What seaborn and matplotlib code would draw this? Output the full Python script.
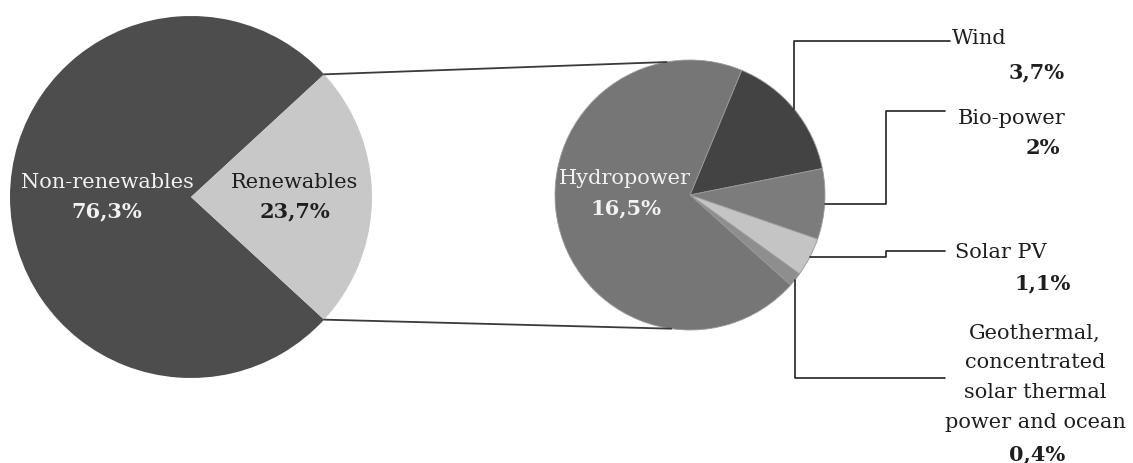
import numpy as np
import matplotlib.pyplot as plt
import seaborn as sns

# data
main_labels = ['Non-renewables', 'Renewables']
main_values = [76.3, 23.7]
main_text = ['76,3%', '23,7%']

sub_labels = ['Wind', 'Bio-power', 'Solar PV',
              'Geothermal,\nconcentrated\nsolar thermal\npower and ocean', 'Hydropower']
sub_values = [3.7, 2.0, 1.1, 0.4, 16.5]
sub_text = ['3,7%', '2%', '1,1%', '0,4%', '16,5%']

main_colors = ['#4d4d4d', '#c8c8c8']
sub_colors = ['#434343', '#7c7c7c', '#c4c4c4', '#8e8e8e', '#767676']

sns.set_theme(style="white")
plt.rcParams['font.family'] = ['DejaVu Serif']
fs = 15

W, H = 1133, 464
fig = plt.figure(figsize=(W / 100, H / 100), dpi=100)
ax = fig.add_axes([0, 0, 1, 1])

def py(y):
    # pixel row -> data y
    return H - y

# left pie
c1, r1 = (191, py(198)), 181
half = main_values[1] / sum(main_values) * 180
w1, _ = ax.pie(main_values, colors=main_colors, center=c1, radius=r1,
               startangle=half, counterclock=True,
               wedgeprops=dict(linewidth=0))

# right pie
c2, r2 = (690, py(196)), 135
w2, _ = ax.pie(sub_values, colors=sub_colors, center=c2, radius=r2,
               startangle=67.5, counterclock=False,
               wedgeprops=dict(linewidth=0.6, edgecolor='#9a9a9a'))

ax.set_xlim(0, W)
ax.set_ylim(0, H)
ax.set_aspect('equal')
ax.axis('off')

# connector lines between pies
line_kw = dict(color='#3a3a3a', lw=1.3)
for sgn, ang2 in [(1, 100), (-1, 262)]:
    p1 = (c1[0] + r1 * np.cos(np.radians(half)), c1[1] + sgn * r1 * np.sin(np.radians(half)))
    p2 = (c2[0] + r2 * np.cos(np.radians(ang2)), c2[1] + r2 * np.sin(np.radians(ang2)))
    ax.plot([p1[0], p2[0]], [p1[1], p2[1]], **line_kw)

# labels in pies
ax.text(107, py(182), main_labels[0], color='#f2f2f2', fontsize=fs, ha='center', va='center')
ax.text(107, py(211), main_text[0], color='#f2f2f2', fontsize=fs, ha='center', va='center', weight='bold')
ax.text(295, py(182), main_labels[1], color='#1e1e1e', fontsize=fs, ha='center', va='center')
ax.text(295, py(211), main_text[1], color='#1e1e1e', fontsize=fs, ha='center', va='center', weight='bold')
ax.text(625, py(178), sub_labels[4], color='#f2f2f2', fontsize=fs, ha='center', va='center')
ax.text(626, py(208), sub_text[4], color='#f2f2f2', fontsize=fs, ha='center', va='center', weight='bold')

# leader lines
def edge(w):
    a = np.radians((w.theta1 + w.theta2) / 2)
    return c2[0] + r2 * np.cos(a), c2[1] + r2 * np.sin(a)

lk = dict(color='#222222', lw=1.2)
x0, y0 = edge(w2[0])
ax.plot([x0, x0, 950], [y0, py(42), py(42)], **lk)
x0, y0 = edge(w2[1])
ax.plot([x0, 886, 886, 945], [y0, y0, py(112), py(112)], **lk)
x0, y0 = edge(w2[2])
ax.plot([x0, 886, 886, 945], [y0, y0, py(252), py(252)], **lk)
x0, y0 = edge(w2[3])
ax.plot([x0, x0, 945], [y0, py(379), py(379)], **lk)

# outer labels
tk = dict(color='#1e1e1e', fontsize=fs)
ax.text(952, py(38), sub_labels[0], ha='left', va='center', **tk)
ax.text(1037, py(72), sub_text[0], ha='center', va='center', weight='bold', **tk)
ax.text(958, py(118), sub_labels[1], ha='left', va='center', **tk)
ax.text(1043, py(148), sub_text[1], ha='center', va='center', weight='bold', **tk)
ax.text(955, py(252), sub_labels[2], ha='left', va='center', **tk)
ax.text(1043, py(283), sub_text[2], ha='center', va='center', weight='bold', **tk)
ax.text(1035, py(324), sub_labels[3], ha='center', va='top', multialignment='center',
        linespacing=1.7, **tk)
ax.text(1037, py(454), sub_text[3], ha='center', va='center', weight='bold', **tk)

fig.savefig('out.png', dpi=100)
